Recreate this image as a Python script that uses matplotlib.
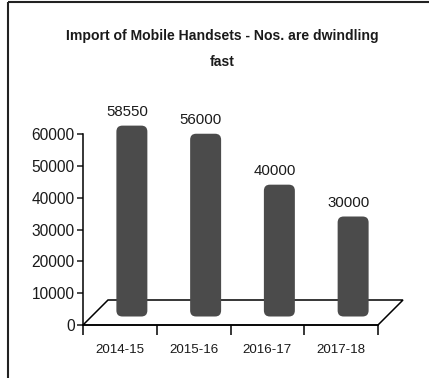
import numpy as np
import matplotlib.pyplot as plt
from matplotlib.patches import FancyBboxPatch, Polygon
from matplotlib.lines import Line2D
from matplotlib.transforms import offset_copy

years = ['2014-15', '2015-16', '2016-17', '2017-18']
imports = [58550, 56000, 40000, 30000]
yticks = [0, 10000, 20000, 30000, 40000, 50000, 60000]

W, H = 429, 378
fig = plt.figure(figsize=(W / 100, H / 100), dpi=100)
plt.rcParams['font.family'] = ['Liberation Sans', 'DejaVu Sans']

# axes box in pixels: x 83..378, y 134..325
ax = fig.add_axes([83 / W, (H - 325) / H, 295 / W, 191 / H])
ax.set_xlim(-0.5, 3.5)
ax.set_ylim(0, 60000)
ax.patch.set_visible(False)

px_x = 295 / 4.0      # pixels per category
px_y = 191 / 60000.0  # pixels per unit

# floor (3d-like parallelogram)
depth = 25
dx, dy = depth / px_x, depth / px_y
floor = Polygon([[-0.5, 0], [3.5, 0], [3.5 + dx, dy], [-0.5 + dx, dy]],
                closed=True, fill=False, edgecolor='black', lw=1.1, clip_on=False)
ax.add_patch(floor)

# rounded bars placed at mid-depth
shift = offset_copy(ax.transData, fig, x=12, y=13, units='dots')
bw = 0.42
extra = 4.5 / px_y
for i, v in enumerate(imports):
    p = FancyBboxPatch((i - bw / 2, -extra), bw, v + extra,
                       boxstyle='round,pad=0,rounding_size=%f' % (6 / px_x),
                       mutation_aspect=(1 / px_y) / (1 / px_x),
                       facecolor='#4b4b4b', edgecolor='none',
                       transform=shift, clip_on=False)
    ax.add_patch(p)
    ax.annotate(str(v), (i, v), xytext=(7, 26.5), textcoords='offset pixels',
                ha='center', va='center', fontsize=10.8, color='#1a1a1a')

for s in ['top', 'right']:
    ax.spines[s].set_visible(False)
for s in ['left', 'bottom']:
    ax.spines[s].set_linewidth(1.1)

ax.set_yticks(yticks)
ax.set_yticklabels([str(t) for t in yticks])
ax.tick_params(axis='y', length=4, width=1.1, pad=2, labelsize=11.2, colors='#1a1a1a')

ax.set_xticks(np.arange(-0.5, 4, 1))
ax.set_xticklabels([])
ax.tick_params(axis='x', which='major', length=7, width=1.1)
ax.set_xticks(np.arange(len(years)), minor=True)
ax.set_xticklabels(years, minor=True)
ax.tick_params(axis='x', which='minor', length=0, pad=13.5, labelsize=9.6, colors='#1a1a1a')

fig.text(222 / W, 1 - 49 / H, 'Import of Mobile Handsets - Nos. are dwindling\nfast',
         ha='center', va='center', fontsize=10.1, fontweight='bold',
         linespacing=2.05, color='#1a1a1a')

# outer frame (only top and left visible)
fig.add_artist(Line2D([7.5 / W, 1], [1 - 1.5 / H, 1 - 1.5 / H], color='#222222',
                      lw=1.5, solid_capstyle='butt'))
fig.add_artist(Line2D([7.5 / W, 7.5 / W], [0, 1 - 1.5 / H], color='#222222',
                      lw=1.5, solid_capstyle='butt'))

fig.savefig('out.png', dpi=100)
